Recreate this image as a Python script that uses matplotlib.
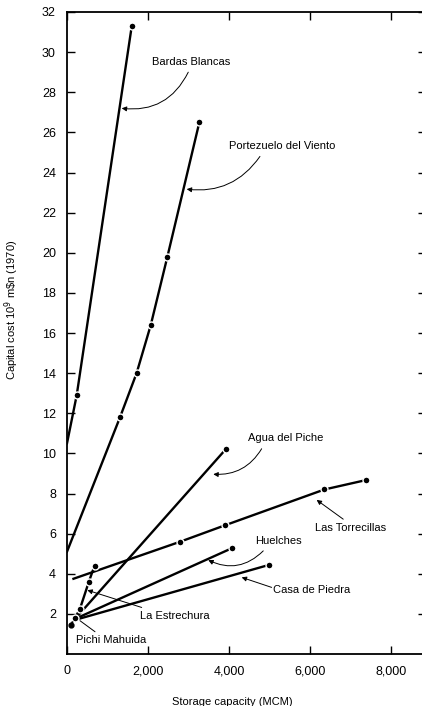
import matplotlib.pyplot as plt

# Reservoir cost curves (storage in MCM, capital cost in 10^9 m$n)
bardas_x = [0, 240, 1600]
bardas_y = [10.5, 12.9, 31.3]

portezuelo_x = [0, 1310, 1720, 2070, 2480, 3270]
portezuelo_y = [5.1, 11.8, 14.0, 16.4, 19.8, 26.5]

agua_x = [200, 3920]
agua_y = [1.75, 10.2]

torrecillas_x = [160, 2800, 3910, 6360, 7390]
torrecillas_y = [3.75, 5.6, 6.42, 8.2, 8.67]

huelches_x = [200, 4070]
huelches_y = [1.75, 5.27]

casa_x = [200, 4990]
casa_y = [1.7, 4.44]

estrechura_x = [200, 320, 540, 680]
estrechura_y = [1.8, 2.25, 3.6, 4.4]

pichi_x = [100, 200]
pichi_y = [1.45, 1.85]

x_ticks = [0, 2000, 4000, 6000, 8000]
x_tick_labels = ["0", "2,000", "4,000", "6,000", "8,000"]
y_ticks = list(range(2, 33, 2))

plt.rcParams['font.family'] = ['Liberation Sans', 'DejaVu Sans']

fig = plt.figure(figsize=(4.22, 7.06), dpi=100)
ax = fig.add_axes([67 / 422, (706 - 654) / 706, (426 - 67) / 422, (654 - 12) / 706])

line_kw = dict(color='black', lw=1.7, marker='o', markersize=5,
               markeredgecolor='white', markeredgewidth=1.0, markerfacecolor='black')

ax.plot(bardas_x, bardas_y, markevery=[1, 2], **line_kw)
ax.plot(portezuelo_x, portezuelo_y, markevery=[1, 2, 3, 4, 5], **line_kw)
ax.plot(agua_x, agua_y, markevery=[1], **line_kw)
ax.plot(torrecillas_x, torrecillas_y, markevery=[1, 2, 3, 4], **line_kw)
ax.plot(huelches_x, huelches_y, markevery=[1], **line_kw)
ax.plot(casa_x, casa_y, markevery=[1], **line_kw)
ax.plot(estrechura_x, estrechura_y, markevery=[0, 1, 2, 3], **line_kw)
ax.plot(pichi_x, pichi_y, color='black', lw=1.4, ls=(0, (2, 1.5)))
ax.plot(pichi_x[:1], pichi_y[:1], 'o', color='black', markersize=3.5)

# labels with arrows: (text, text pos, arrow tail, arrow tip, curvature, head)
labels = [
    ("Bardas Blancas", (2100, 29.5), (2996, 29.0), (1351, 27.2), -0.35, True),
    ("Portezuelo del Viento", (4000, 25.3), (4767, 24.8), (2957, 23.17), -0.3, True),
    ("Agua del Piche", (4470, 10.75), (4809, 10.23), (3614, 8.96), -0.3, True),
    ("Las Torrecillas", (6126, 6.3), (6825, 6.72), (6168, 7.68), 0.0, True),
    ("Huelches", (4644, 5.64), (4849, 5.14), (3490, 4.68), -0.35, True),
    ("Casa de Piedra", (5081, 3.18), (5056, 3.32), (4315, 3.82), 0.0, True),
    ("La Estrechura", (1803, 1.88), (1845, 2.32), (502, 3.18), 0.0, True),
    ("Pichi Mahuida", (222, 0.71), (692, 1.11), (321, 1.66), 0.0, False),
]
for text, pos, tail, tip, rad, head in labels:
    ax.text(pos[0], pos[1], text, fontsize=8, va='center', ha='left')
    ax.annotate('', xy=tip, xytext=tail,
                arrowprops=dict(arrowstyle='-|>' if head else '-', color='black',
                                lw=0.7, mutation_scale=7, shrinkA=0, shrinkB=0,
                                connectionstyle=f'arc3,rad={rad}'))

ax.set_xlim(0, 8870)
ax.set_ylim(0, 32)
ax.set_xticks(x_ticks)
ax.set_xticklabels(x_tick_labels)
ax.set_yticks(y_ticks)
ax.tick_params(direction='in', top=True, right=True, length=6, width=1,
               labelsize=9, pad=8)
for s in ax.spines.values():
    s.set_linewidth(1.3)

ax.set_ylabel("Capital cost 10$^9$ m\\$n (1970)", fontsize=8)
ax.yaxis.set_label_coords(-0.127, 0.536)
ax.set_xlabel("Storage capacity (MCM)", fontsize=8)
ax.xaxis.set_label_coords(0.46, -0.067)

plt.savefig("out.png", dpi=100)
